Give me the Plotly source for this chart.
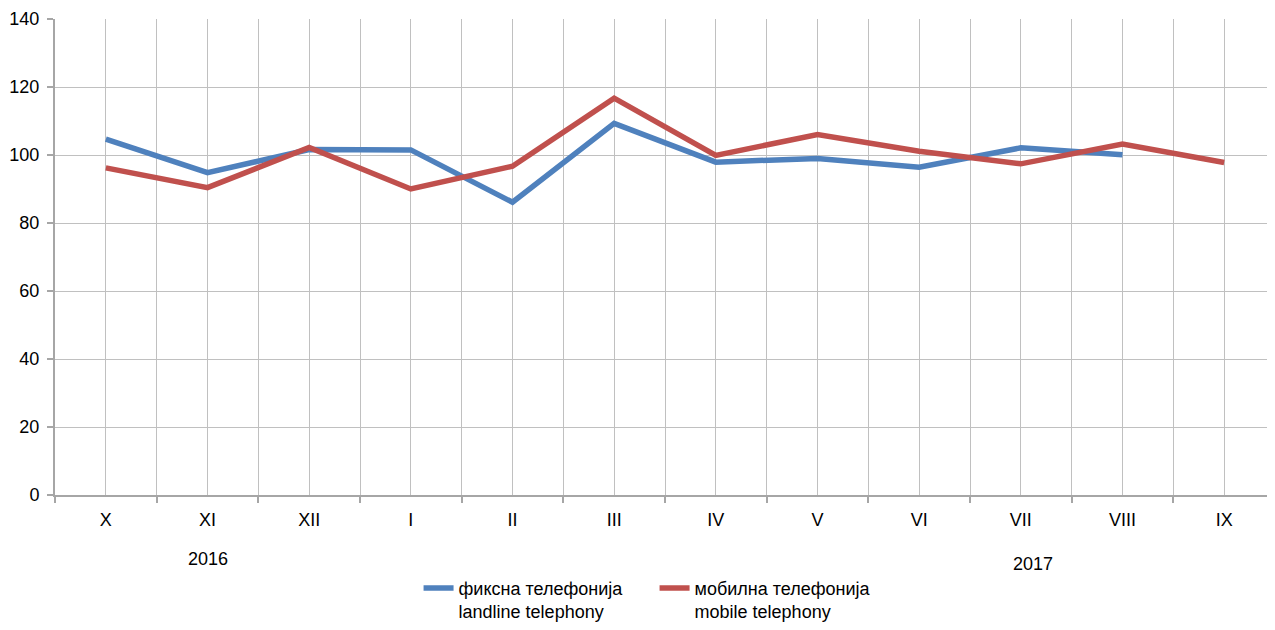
import plotly.graph_objects as go

categories = ["X", "XI", "XII", "I", "II", "III", "IV", "V", "VI", "VII", "VIII", "IX"]
landline = [104.7, 94.8, 101.6, 101.5, 86.1, 109.3, 97.9, 99.0, 96.4, 102.1, 100.1, None]
mobile = [96.2, 90.4, 102.2, 90.0, 96.7, 116.7, 99.9, 106.0, 101.1, 97.4, 103.2, 97.8]
y_ticks = [0, 20, 40, 60, 80, 100, 120, 140]
year_labels = [("2016", 1.0, -0.135), ("2017", 9.12, -0.145)]
series_names = ["фиксна телефонија<br>landline telephony", "мобилна телефонија<br>mobile telephony"]

idx = list(range(len(categories)))
font = "Liberation Sans, Arial, sans-serif"
fs = 18

fig = go.Figure()
fig.add_trace(go.Scatter(x=idx, y=landline, mode="lines", name=series_names[0],
                         line=dict(color="#4f81bd", width=5.5), connectgaps=False))
fig.add_trace(go.Scatter(x=idx, y=mobile, mode="lines", name=series_names[1],
                         line=dict(color="#c0504d", width=5.5)))

for txt, xv, yv in year_labels:
    fig.add_annotation(text=txt, x=xv, xref="x", y=yv, yref="paper", yanchor="middle",
                       showarrow=False, font=dict(family=font, size=fs, color="#000"))

fig.update_layout(
    width=1267, height=622,
    margin=dict(l=47, r=0, t=11, b=126),
    paper_bgcolor="white", plot_bgcolor="white",
    font=dict(family=font, size=fs, color="#000"),
    showlegend=True,
    legend=dict(orientation="h", x=0.298, xanchor="left", y=-0.157, yanchor="top",
                valign="top", font=dict(family=font, size=fs, color="#000"),
                entrywidth=191, entrywidthmode="pixels", tracegroupgap=0),
)
fig.update_xaxes(
    range=[-0.5, len(categories) - 0.5], automargin=False,
    tickmode="array", tickvals=idx, ticktext=categories,
    showgrid=True, gridcolor="#c0c0c0", gridwidth=1,
    ticks="", ticklabelstandoff=7,
    showline=True, linecolor="#a6a6a6", linewidth=2,
    zeroline=False,
    minor=dict(tickvals=[i - 0.5 for i in idx] + [len(categories) - 0.5],
               ticks="outside", ticklen=6, tickcolor="#a6a6a6", tickwidth=2,
               showgrid=True, gridcolor="#c0c0c0", gridwidth=1),
)
fig.update_yaxes(
    range=[0, 140], tickmode="array", tickvals=y_ticks, automargin=False,
    showgrid=True, gridcolor="#c0c0c0", gridwidth=1,
    ticks="outside", ticklen=6, tickcolor="#a6a6a6", tickwidth=2,
    ticklabelstandoff=4,
    showline=True, linecolor="#a6a6a6", linewidth=2, zeroline=False,
)

fig.write_html("out.html")
